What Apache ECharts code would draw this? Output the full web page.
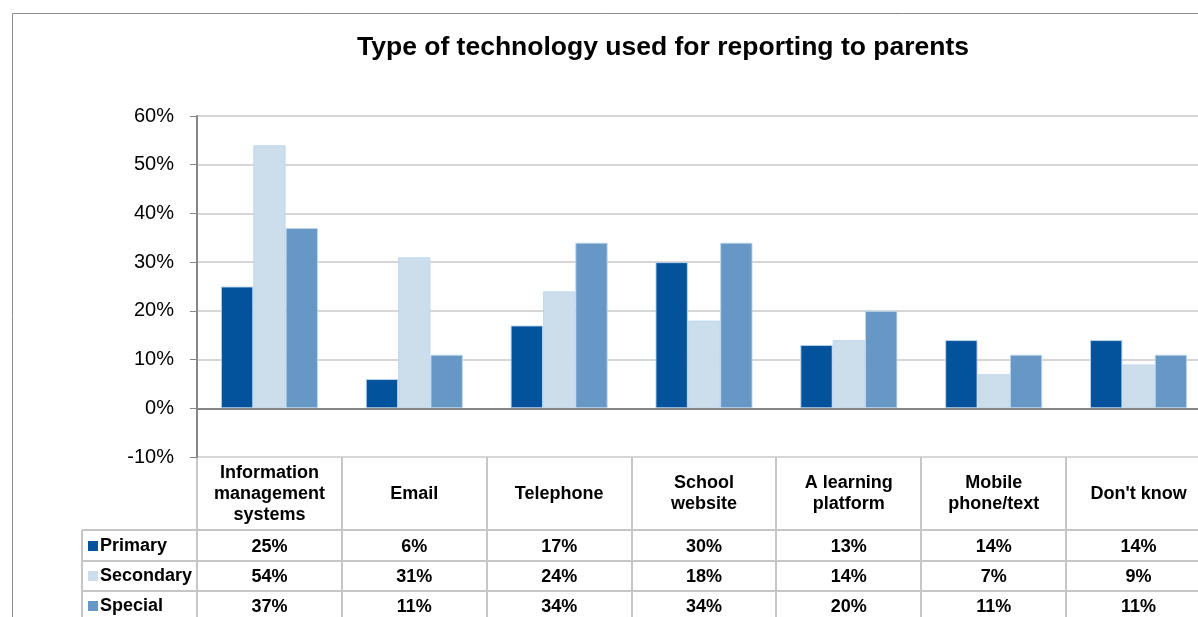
<!DOCTYPE html>
<html>
<head>
<meta charset="utf-8">
<script src="https://cdn.jsdelivr.net/npm/echarts@6/dist/echarts.min.js"></script>
<style>
  html, body { margin: 0; padding: 0; background: #fff; }
  #chart { width: 1198px; height: 617px; }
</style>
</head>
<body>
<div id="chart"></div>
<script>
// Categories (header cells of the data table)
const categories = [
  'Information\nmanagement\nsystems',
  'Email',
  'Telephone',
  'School\nwebsite',
  'A learning\nplatform',
  'Mobile\nphone/text',
  "Don't know"
];

// Percentages by school type
const seriesNames = ['Primary', 'Secondary', 'Special'];
const primary   = [25, 6, 17, 30, 13, 14, 14];
const secondary = [54, 31, 24, 18, 14, 7, 9];
const special   = [37, 11, 34, 34, 20, 11, 11];
const seriesData = [primary, secondary, special];

// Value axis ticks
const yTicks = [-10, 0, 10, 20, 30, 40, 50, 60];

const colors = ['#02529c', '#ccddeb', '#6798c5'];
const FONT = 'Liberation Sans, Arial, sans-serif';

// Layout
const GRID = { left: 197, top: 116, width: 1014, height: 341 };
const ROW_CENTERS = [547, 577, 607];          // data table rows
const ROW_LINES = [530, 561, 591];            // horizontal rules between rows
const TABLE_LEFT = 82;
const LINE_COLOR = '#c6c6c6';

const chart = echarts.init(document.getElementById('chart'));

const xAxes = [{
  type: 'category',
  gridIndex: 0,
  data: categories,
  position: 'bottom',
  axisLine: { show: false, onZero: false },
  axisTick: { show: false },
  axisLabel: {
    interval: 0,
    margin: 37,
    verticalAlign: 'middle',
    color: '#000',
    fontFamily: FONT,
    fontWeight: 'bold',
    fontSize: 18,
    lineHeight: 21
  }
}];
seriesData.forEach((vals, k) => {
  xAxes.push({
    type: 'category',
    gridIndex: 0,
    data: categories,
    position: 'bottom',
    axisLine: { show: false, onZero: false },
    axisTick: { show: false },
    axisLabel: {
      interval: 0,
      margin: ROW_CENTERS[k] - (GRID.top + GRID.height),
      verticalAlign: 'middle',
      color: '#000',
      fontFamily: FONT,
      fontWeight: 'bold',
      fontSize: 18,
      formatter: (v, i) => vals[i] + '%'
    }
  });
});

const legends = seriesNames.map((name, k) => ({
  data: [name],
  orient: 'vertical',
  left: 88,
  top: ROW_CENTERS[k] - 10,
  padding: 0,
  icon: 'rect',
  itemWidth: 10,
  itemHeight: 10,
  selectedMode: false,
  itemStyle: { borderWidth: 0 },
  textStyle: {
    color: '#000',
    fontFamily: FONT,
    fontWeight: 'bold',
    fontSize: 18,
    padding: [0, 0, 0, -3]
  }
}));

const series = seriesNames.map((name, k) => ({
  name: name,
  type: 'bar',
  data: seriesData[k],
  barGap: '0%',
  barCategoryGap: '33%',
  itemStyle: {
    color: colors[k],
    borderColor: 'rgba(190,214,238,0.9)',
    borderWidth: 1
  },
  markLine: k === 0 ? {
    silent: true,
    symbol: 'none',
    label: { show: false },
    lineStyle: { color: '#868686', width: 2, type: 'solid' },
    data: [{ yAxis: 0 }]
  } : undefined
}));

chart.setOption({
  animation: false,
  backgroundColor: '#fff',
  title: {
    text: 'Type of technology used for reporting to parents',
    left: 357,
    top: 34,
    padding: 0,
    textStyle: {
      color: '#000',
      fontFamily: FONT,
      fontWeight: 'bold',
      fontSize: 26.5
    }
  },
  legend: legends,
  grid: {
    left: GRID.left,
    top: GRID.top,
    width: GRID.width,
    height: GRID.height,
    containLabel: false,
    outerBoundsMode: 'none'
  },
  xAxis: xAxes,
  yAxis: {
    type: 'value',
    min: yTicks[0],
    max: yTicks[yTicks.length - 1],
    interval: 10,
    axisLine: { show: true, lineStyle: { color: '#868686', width: 2 } },
    axisTick: { show: true, length: 7, lineStyle: { color: '#868686', width: 1 } },
    splitLine: { show: true, lineStyle: { color: '#c8c8c8', width: 1.5 } },
    axisLabel: {
      margin: 23,
      color: '#000',
      fontFamily: FONT,
      fontSize: 20,
      formatter: v => v + '%'
    }
  },
  series: series
});

// Data table rules, aligned with the category bands of the axis
function drawTable() {
  const c0 = chart.convertToPixel({ xAxisIndex: 0 }, 0);
  const c1 = chart.convertToPixel({ xAxisIndex: 0 }, 1);
  const band = c1 - c0;
  const bottomY = GRID.top + GRID.height;
  const elements = [];

  // outer chart frame
  elements.push({
    type: 'rect',
    shape: { x: 12.5, y: 13.5, width: 1400, height: 800 },
    style: { fill: null, stroke: '#8c8c8c', lineWidth: 1 },
    silent: true
  });

  // vertical rules at category boundaries
  for (let i = 0; i <= categories.length; i++) {
    const x = Math.round(c0 - band / 2 + i * band);
    elements.push({
      type: 'line',
      shape: { x1: x, y1: bottomY, x2: x, y2: 640 },
      style: { stroke: LINE_COLOR, lineWidth: 2 },
      silent: true
    });
  }
  // left edge of legend column
  elements.push({
    type: 'line',
    shape: { x1: TABLE_LEFT, y1: ROW_LINES[0], x2: TABLE_LEFT, y2: 640 },
    style: { stroke: LINE_COLOR, lineWidth: 2 },
    silent: true
  });
  // horizontal rules
  ROW_LINES.forEach(y => {
    elements.push({
      type: 'line',
      shape: { x1: TABLE_LEFT, y1: y, x2: 1300, y2: y },
      style: { stroke: LINE_COLOR, lineWidth: 2 },
      silent: true
    });
  });
  chart.setOption({ graphic: { elements: elements } });
}
drawTable();
</script>
</body>
</html>
